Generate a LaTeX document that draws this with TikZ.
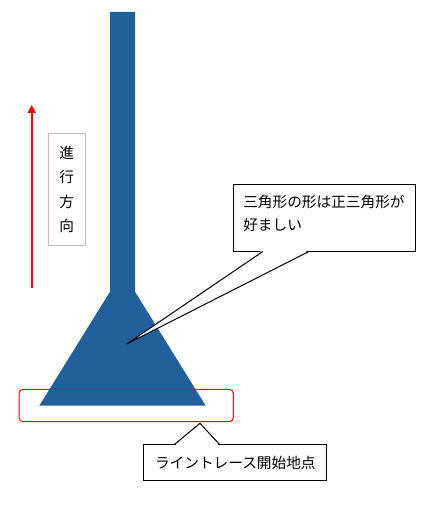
\documentclass[tikz,border=0pt]{standalone}
\usepackage{fontspec}
\newfontfamily\jpfont{Noto Sans CJK JP}
\usetikzlibrary{arrows.meta,calc}
\definecolor{shapeblue}{RGB}{34,96,155}
\definecolor{boxgray}{RGB}{190,190,190}

\begin{document}
\begin{tikzpicture}[x=0.75pt,y=-0.75pt]
        \useasboundingbox (0,0) rectangle (430,506);
        \fill[shapeblue] (110,12) -- (135,12) -- (135,291.7) -- (205.7,405.7)
          -- (39.3,405.7) -- (110,291.7) -- cycle;
        \begin{scope}[every node/.style={font=\jpfont\fontsize{11pt}{17.5pt}\selectfont,inner sep=0pt}]
          \node[draw=red,line width=0.75pt,rounded corners=3pt,minimum width=160.7pt,minimum height=24.3pt] (startmark) at (126.2,405.5) {};
          \node[draw=boxgray,line width=0.75pt,align=center,minimum width=27.75pt,minimum height=84pt,
            font=\jpfont\fontsize{11pt}{18.4pt}\selectfont] (dir) at (66.8,189.3) {進\\行\\方\\向};
          \node[draw,fill=white,line width=0.75pt,minimum width=136.3pt,minimum height=50pt] (note) at (324.2,217.7) {};
          \node[anchor=north west,align=left] (notetext) at (243,194.5) {三角形の形は正三角形が\\好ましい};
          \node[draw,fill=white,line width=0.75pt,minimum width=137pt,minimum height=26.8pt] (startnote) at (235.3,462.8) {ライントレース開始地点};
        \end{scope}
        \coordinate (notetip) at (126.7,344);
        \coordinate (noteleft) at ($(note.south west)+(30,0)$);
        \coordinate (noteright) at ($(note.south west)+(76,0)$);
        \coordinate (starttip) at (200,423.3);
        \coordinate (startleft) at ($(startnote.north west)+(31,0)$);
        \coordinate (startright) at ($(startnote.north west)+(76,0)$);
        \coordinate (dirtail) at (31.7,288);
        \coordinate (dirhead) at (31.7,105);
        \begin{scope}[every path/.style={line width=0.75pt}]
          \fill[white] ($(noteleft)+(0,-1.5)$) -- (notetip) -- ($(noteright)+(0,-1.5)$) -- cycle;
          \draw (noteleft) -- (notetip) -- (noteright);
          \fill[white] ($(startleft)+(0,1.5)$) -- (starttip) -- ($(startright)+(0,1.5)$) -- cycle;
          \draw (startleft) -- (starttip) -- (startright);
        \end{scope}
        \draw[red,line width=1.5pt,-{Triangle[width=6pt,length=6pt]}] (dirtail) -- (dirhead);
\end{tikzpicture}
\end{document}
